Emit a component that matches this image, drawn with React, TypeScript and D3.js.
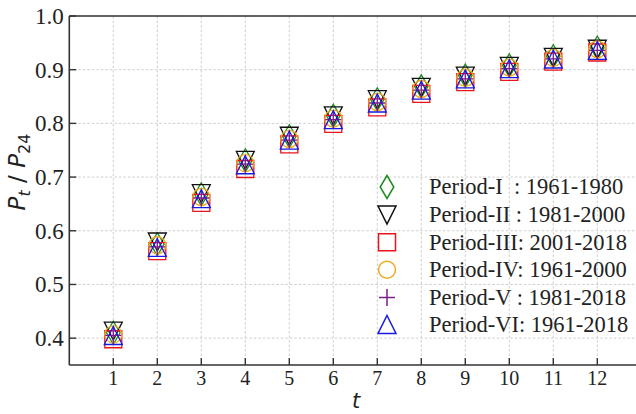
import React from "react";
import * as d3 from "d3";

const tValues = [1, 2, 3, 4, 5, 6, 7, 8, 9, 10, 11, 12];
const periodI = [0.41, 0.575, 0.668, 0.731, 0.776, 0.814, 0.845, 0.869, 0.889, 0.908, 0.925, 0.941];
const periodII = [0.414, 0.58, 0.67, 0.732, 0.777, 0.815, 0.845, 0.868, 0.889, 0.907, 0.924, 0.939];
const periodIII = [0.398, 0.562, 0.652, 0.715, 0.761, 0.799, 0.83, 0.855, 0.877, 0.896, 0.915, 0.932];
const periodIV = [0.407, 0.573, 0.663, 0.726, 0.771, 0.809, 0.84, 0.864, 0.885, 0.904, 0.922, 0.938];
const periodV = [0.405, 0.57, 0.661, 0.724, 0.769, 0.807, 0.838, 0.862, 0.883, 0.902, 0.92, 0.936];
const periodVI = [0.404, 0.568, 0.659, 0.722, 0.768, 0.806, 0.837, 0.861, 0.882, 0.901, 0.919, 0.935];

const seriesLabels = [
  "Period-I  : 1961-1980",
  "Period-II : 1981-2000",
  "Period-III: 2001-2018",
  "Period-IV: 1961-2000",
  "Period-V : 1981-2018",
  "Period-VI: 1961-2018",
];
const yTickValues = [0.4, 0.5, 0.6, 0.7, 0.8, 0.9, 1.0];
const xTickValues = tValues;

const seriesData = [periodI, periodII, periodIII, periodIV, periodV, periodVI];
const seriesMarkers = ["diamond", "triDown", "square", "circle", "plus", "triUp"];
const seriesColors = ["#1f8a1f", "#111111", "#e8141c", "#f0a81c", "#7b1e8a", "#1a1ae0"];

function markerPath(kind: string): string {
  switch (kind) {
    case "diamond":
      return "M0,-11.5L6.8,0L0,11.5L-6.8,0Z";
    case "triDown":
      return "M-9,-8.5L9,-8.5L0,9.5Z";
    case "square":
      return "M-8.5,-8.5L8.5,-8.5L8.5,8.5L-8.5,8.5Z";
    case "circle":
      return "M8.5,0A8.5,8.5 0 1,1 -8.5,0A8.5,8.5 0 1,1 8.5,0Z";
    case "plus":
      return "M-8,0L8,0M0,-8.5L0,8.5";
    case "triUp":
      return "M0,-9.5L9,8.5L-9,8.5Z";
  }
  return "";
}

export default function App() {
  const W = 636;
  const H = 414;
  const left = 69.3;
  const top = 16;
  const bottom = 365;
  const x = d3.scaleLinear().domain([0, 13]).range([left, left + 13 * 44]);
  const y = d3.scaleLinear().domain([0.35, 1.0]).range([bottom, top]);
  const axisColor = "#333";
  const serif = "'Liberation Serif', 'Times New Roman', serif";
  const legendX = 387;
  const legendY0 = 187;
  const legendDy = 27.6;

  return (
    <svg
      width={W}
      height={H}
      style={{ position: "absolute", left: 0, top: 0, background: "#fff" }}
    >
      <rect x={0} y={0} width={W} height={H} fill="#fff" />
      {/* grid */}
      {xTickValues.map((t) => (
        <line
          key={"gx" + t}
          x1={x(t)}
          x2={x(t)}
          y1={top}
          y2={bottom}
          stroke="#c8c8c8"
          strokeWidth={0.9}
          strokeDasharray="2.5,2"
        />
      ))}
      {yTickValues.map((v) => (
        <line
          key={"gy" + v}
          x1={left}
          x2={W}
          y1={y(v)}
          y2={y(v)}
          stroke="#c8c8c8"
          strokeWidth={0.9}
          strokeDasharray="2.5,2"
        />
      ))}
      {/* axes */}
      <line x1={left} x2={left} y1={top} y2={bottom} stroke={axisColor} strokeWidth={1.6} />
      <line x1={left} x2={W} y1={bottom} y2={bottom} stroke={axisColor} strokeWidth={1.6} />
      <line x1={left} x2={W} y1={top} y2={top} stroke={axisColor} strokeWidth={1.6} />
      {yTickValues.map((v) => (
        <g key={"yt" + v}>
          <line x1={left} x2={left + 7} y1={y(v)} y2={y(v)} stroke={axisColor} strokeWidth={1.4} />
          <text
            x={left - 5.5}
            y={y(v)}
            dy="0.34em"
            textAnchor="end"
            fontFamily={serif}
            fontSize={23}
            fill="#222"
          >
            {v.toFixed(1)}
          </text>
        </g>
      ))}
      {xTickValues.map((t) => (
        <g key={"xt" + t}>
          <line x1={x(t)} x2={x(t)} y1={bottom} y2={bottom - 7} stroke={axisColor} strokeWidth={1.4} />
          <text
            x={x(t)}
            y={385}
            textAnchor="middle"
            fontFamily={serif}
            fontSize={20}
            fill="#222"
          >
            {t}
          </text>
        </g>
      ))}
      {/* axis labels */}
      <text
        x={356}
        y={408}
        textAnchor="middle"
        fontFamily="'DejaVu Sans', sans-serif"
        fontStyle="italic"
        fontSize={21}
        fill="#222"
      >
        t
      </text>
      <text
        transform={`translate(25,172) rotate(-90)`}
        textAnchor="middle"
        fontFamily="'DejaVu Sans', sans-serif"
        fontStyle="italic"
        fontSize={23}
        fill="#222"
      >
        P<tspan fontSize={16} dy={5}>t</tspan>
        <tspan dy={-5} fontStyle="normal"> / </tspan>P
        <tspan fontSize={16} dy={5} fontStyle="normal">24</tspan>
      </text>
      {/* data */}
      {seriesData.map((vals, si) => (
        <g key={"s" + si}>
          {vals.map((v, i) => (
            <path
              key={i}
              d={markerPath(seriesMarkers[si])}
              transform={`translate(${x(tValues[i])},${y(v)})`}
              fill="none"
              stroke={seriesColors[si]}
              strokeWidth={1.3}
            />
          ))}
        </g>
      ))}
      {/* legend */}
      {seriesLabels.map((lab, si) => (
        <g key={"l" + si} transform={`translate(0,${legendY0 + si * legendDy})`}>
          <path
            d={markerPath(seriesMarkers[si])}
            transform={`translate(${legendX},0)`}
            fill="none"
            stroke={seriesColors[si]}
            strokeWidth={1.5}
          />
          <text
            x={429}
            y={0}
            dy="0.33em"
            fontFamily={serif}
            fontSize={22.5}
            fill="#222"
            style={{ whiteSpace: "pre" }}
          >
            {lab}
          </text>
        </g>
      ))}
    </svg>
  );
}
